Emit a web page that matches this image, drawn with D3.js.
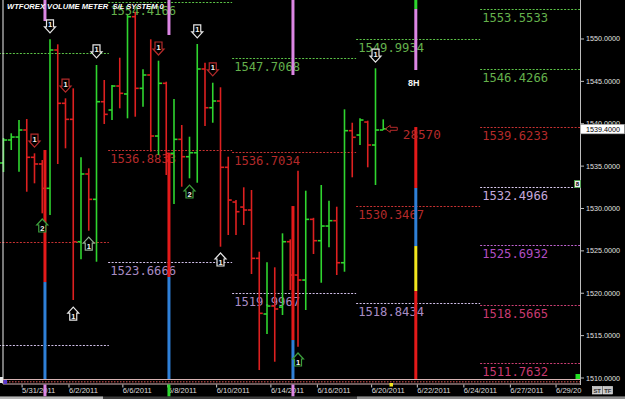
<!DOCTYPE html>
<html>
<head>
<meta charset="utf-8">
<script src="https://cdn.jsdelivr.net/npm/d3@7/dist/d3.min.js"></script>
<style>
  body { margin: 0; background: #000; }
  svg { display: block; }
</style>
</head>
<body>
<svg id="chart"></svg>
<script>
// 8H bars (bar index = position)
const opens  = [1535.37,1538.08,1538.43,1539.26,1536.04,1535.25,1532.38,1548.70,1542.41,1540.52,
                1526.08,1534.07,1531.08,1542.60,1541.62,1544.45,1543.51,1552.63,1544.18,1545.75,
                1538.55,1544.77,1536.51,1538.16,1536.11,1536.58,1546.46,1541.89,1542.68,1534.86,
                1530.76,1530.17,1529.82,1524.12,1517.55,1518.49,1518.37,1526.08,1522.15,1521.56,
                1528.72,1526.20,1527.93,1528.56,1523.60,1539.18,1538.67,1540.20,1537.49,1539.26];
const highs  = [1538.32,1538.87,1540.44,1540.56,1536.51,1535.72,1549.96,1549.37,1543.00,1544.18,
                1536.04,1534.74,1546.93,1545.16,1544.57,1547.79,1552.83,1553.22,1546.42,1549.96,
                1547.44,1544.96,1542.92,1539.85,1538.47,1549.41,1547.20,1544.84,1544.30,1536.11,
                1531.00,1532.50,1532.18,1524.90,1523.65,1523.06,1527.07,1526.36,1534.46,1532.10,
                1528.90,1532.77,1530.92,1530.21,1541.70,1540.12,1540.64,1540.36,1546.54,1540.52];
const lows   = [1534.30,1536.90,1534.34,1531.98,1532.97,1529.43,1529.23,1535.25,1537.10,1519.20,
                1524.00,1527.38,1523.72,1539.97,1540.44,1541.82,1540.64,1540.83,1542.01,1536.70,
                1536.31,1533.95,1530.53,1532.57,1533.56,1533.04,1539.73,1540.12,1525.49,1526.87,
                1526.87,1528.05,1522.27,1510.94,1515.19,1511.92,1517.43,1520.38,1513.69,1518.02,
                1524.63,1521.24,1525.42,1522.15,1522.54,1533.68,1537.49,1534.86,1532.77,1539.26];
const closes = [1538.08,1538.43,1539.26,1536.04,1535.25,1532.38,1548.70,1542.41,1540.52,1526.08,
                1534.07,1531.08,1542.60,1541.11,1544.45,1543.59,1552.63,1544.18,1545.75,1538.55,
                1544.77,1536.51,1538.16,1536.11,1536.58,1546.46,1541.89,1542.68,1534.86,1531.00,
                1529.62,1529.82,1524.12,1517.63,1518.49,1518.14,1526.08,1522.15,1521.56,1528.72,
                1526.20,1527.93,1528.56,1523.60,1539.18,1538.40,1540.44,1537.49,1539.26,1539.40];
const lastPrice = 1539.40;

const dateLabels = ["5/31/2011","6/2/2011","6/6/2011","6/8/2011","6/10/2011","6/14/2011",
                    "6/16/2011","6/20/2011","6/22/2011","6/24/2011","6/27/2011","6/29/20"];
const dateTickAt = [2.4, 8.45, 15.4, 21.2, 27.5, 34.5, 40.5, 47.5, 53.4, 59.4, 65.4, 71.3];

const priceTicks = [1510, 1515, 1520, 1525, 1530, 1535, 1540, 1545, 1550];

// S/L levels, grouped in 16-bar blocks
const blockStart = [-2.4, 13.5, 29.5, 45.5, 61.5];
const levelBlock = [0, 0, 0, 1, 1, 1, 2, 2, 2, 3, 3, 3, 4, 4, 4, 4, 4, 4, 4];
const levelValue = [1548.38, 1526.08, 1513.93,
                    1554.4166, 1536.8833, 1523.6666,
                    1547.7068, 1536.7034, 1519.9967,
                    1549.9934, 1530.3467, 1518.8434,
                    1553.5533, 1546.4266, 1539.6233, 1532.4966, 1525.6932, 1518.5665, 1511.7632];
const levelKind  = ["g","r","l", "g","r","l", "g","r","l", "g","r","l",
                    "g","g","r","w","m","p","p"];

// volume meter columns: position, then stacked pieces [from, to, colour]
const volAt = [5.35, 21.35, 37.35, 53.2];
const volPieces = [
  [[1556, 1552.12, "pink"], [1536.90, 1521.32, "red"], [1521.32, 1509.7, "blue"]],
  [[1556, 1550.47, "pink"], [1536.55, 1521.92, "red"], [1521.92, 1509.7, "blue"]],
  [[1556, 1545.75, "pink"], [1530.29, 1514.48, "red"], [1514.48, 1509.7, "blue"]],
  [[1556, 1553.54, "green"], [1553.54, 1546.34, "pink"], [1539.61, 1532.42, "red"],
   [1532.42, 1525.57, "blue"], [1525.57, 1520.26, "yellow"], [1520.26, 1509.7, "red"]]
];
const volMarkColor = ["pink", "green", "pink"];
const volNumber = "28570";

// signal arrows
const arrowAt   = [6, 12, 8, 25, 20, 4, 27, 48, 5, 11, 24, 9, 28, 38];
const arrowTip  = [1550.71, 1547.76, 1543.74, 1550.12, 1548.11, 1537.25, 1545.64, 1547.28,
                   1528.76, 1526.63, 1532.77, 1518.37, 1524.75, 1512.95];
const arrowDir  = ["d","d","d","d","d","d","d","d","u","u","u","u","u","u"];
const arrowKind = ["w","w","r","w","r","r","r","w","g","gg","g","w","w","g"];
const arrowNum  = ["1","1","1","1","1","1","1","1","2","1","2","1","1","1"];

const W = 625, H = 399;
const GREEN = "#2fd52f", RED = "#dd2020";
const volColors = { pink: "#dc86e4", red: "#e41a1a", blue: "#2f80d8", yellow: "#f2e61e", green: "#2ed62e" };
const lineColors = { g: "#5cc447", r: "#c83232", l: "#d2c0ea", w: "#dccdf2", m: "#c064d2", p: "#cc3f74" };
const textColors = { g: "#64b04c", r: "#b42a2a", l: "#a88cc4", w: "#c4a8dc", m: "#b04ec2", p: "#c83a70" };
const arrowColors = { w: "#e6e6e6", r: "#b42a2a", g: "#3c9e3c", gg: "#8eaa8e" };

const svg = d3.select("#chart").attr("width", W).attr("height", H);
svg.append("rect").attr("width", W).attr("height", H).attr("fill", "#000");

const x = d3.scaleLinear().domain([0, 74.4]).range([3.5, 580.1]);
const y = d3.scaleLinear().domain([1510, 1554.6]).range([378, 0]);
const plotRight = 580, plotBottom = 379;

svg.append("clipPath").attr("id", "plotclip")
  .append("rect").attr("x", 0).attr("y", 0).attr("width", plotRight).attr("height", plotBottom);

const chart = svg.append("g").attr("clip-path", "url(#plotclip)");

// left border
svg.append("line")
  .attr("x1", 3).attr("x2", 3).attr("y1", 0).attr("y2", 384)
  .attr("stroke", "#f0f0f0").attr("stroke-width", 1);

// level lines + labels
const levels = levelValue.map((v, i) => ({ v, b: levelBlock[i], k: levelKind[i] }));
chart.selectAll(".level").data(levels).join("line")
  .attr("x1", d => x(blockStart[d.b]))
  .attr("x2", d => Math.min(plotRight, x(blockStart[d.b] + 16)))
  .attr("y1", d => Math.round(y(d.v)) + 0.5)
  .attr("y2", d => Math.round(y(d.v)) + 0.5)
  .attr("stroke", d => lineColors[d.k])
  .attr("stroke-width", 1)
  .attr("stroke-dasharray", "2,1.5");

const lcd = (sel) => sel
  .attr("font-family", "DejaVu Sans Mono, monospace")
  .attr("font-size", 13)
  .attr("lengthAdjust", "spacingAndGlyphs");

chart.selectAll(".levelLabel").data(levels.filter(d => d.b > 0)).join("text")
  .call(lcd)
  .attr("x", d => x(blockStart[d.b]) + 2)
  .attr("y", d => y(d.v) + 13)
  .attr("textLength", 66)
  .attr("fill", d => textColors[d.k])
  .text(d => d.v.toFixed(4));

// volume meter columns
volAt.forEach((pos, j) => {
  chart.selectAll(".vol" + j).data(volPieces[j]).join("rect")
    .attr("x", x(pos) - 1.5)
    .attr("width", 3)
    .attr("y", d => y(d[0]))
    .attr("height", d => y(d[1]) - y(d[0]))
    .attr("fill", d => volColors[d[2]]);
});

// OHLC bars
const bars = opens.map((o, i) => ({ i, o, h: highs[i], l: lows[i], c: closes[i] }));
const barG = chart.selectAll(".bar").data(bars).join("g")
  .attr("stroke", d => d.c >= d.o ? GREEN : RED)
  .attr("stroke-width", 1.6);
barG.append("line")
  .attr("x1", d => x(d.i)).attr("x2", d => x(d.i))
  .attr("y1", d => y(d.h)).attr("y2", d => y(d.l));
barG.append("line")
  .attr("x1", d => x(d.i) - 3.5).attr("x2", d => x(d.i))
  .attr("y1", d => y(d.o)).attr("y2", d => y(d.o));
barG.append("line")
  .attr("x1", d => x(d.i)).attr("x2", d => x(d.i) + 3.5)
  .attr("y1", d => y(d.c)).attr("y2", d => y(d.c));

// arrows
const arrows = arrowAt.map((a, i) => ({ a, t: arrowTip[i], dir: arrowDir[i], k: arrowKind[i], n: arrowNum[i] }));
const arrowPath = (cx, ty, dir) => {
  const s = dir === "d" ? -1 : 1;
  return `M${cx - 3.5},${ty + s * 13} L${cx + 3.5},${ty + s * 13} L${cx + 3.5},${ty + s * 6}` +
    ` L${cx + 5.5},${ty + s * 6} L${cx},${ty} L${cx - 5.5},${ty + s * 6} L${cx - 3.5},${ty + s * 6} Z`;
};
const arG = chart.selectAll(".arrow").data(arrows).join("g");
arG.append("path")
  .attr("d", d => arrowPath(x(d.a), y(d.t), d.dir))
  .attr("fill", "#000")
  .attr("stroke", d => arrowColors[d.k])
  .attr("stroke-width", 1.2);
arG.append("text")
  .attr("x", d => x(d.a))
  .attr("y", d => d.dir === "d" ? y(d.t) - 5.5 : y(d.t) + 12)
  .attr("text-anchor", "middle")
  .attr("font-family", "Liberation Sans, Arial, sans-serif")
  .attr("font-size", 7.5)
  .attr("font-weight", "bold")
  .attr("fill", "#f4f4f4")
  .text(d => d.n);

// current volume readout on the last meter
const lastVol = volAt[volAt.length - 1];
chart.append("text")
  .call(lcd)
  .attr("x", x(lastVol) - 13)
  .attr("y", y(lastPrice) + 10)
  .attr("textLength", 38)
  .attr("fill", "#b42a2a")
  .text(volNumber);
chart.append("path")
  .attr("d", `M${x(49) + 2},${y(lastPrice)} l5,-3.5 v2 h7 v3 h-7 v2 Z`)
  .attr("fill", "none")
  .attr("stroke", "#b42a2a")
  .attr("stroke-width", 1);
chart.append("text")
  .attr("x", x(lastVol) - 2)
  .attr("y", y(1546.34) + 16)
  .attr("text-anchor", "middle")
  .attr("font-family", "Liberation Sans, Arial, sans-serif")
  .attr("font-size", 9)
  .attr("font-weight", "bold")
  .attr("fill", "#f4f4f4")
  .text("8H");

// title
svg.append("text")
  .attr("x", 7).attr("y", 9)
  .attr("font-family", "Liberation Sans, Arial, sans-serif")
  .attr("font-size", 7.6)
  .attr("font-weight", "bold")
  .attr("font-style", "italic")
  .attr("fill", "#ffffff")
  .style("white-space", "pre")
  .text("WTFOREX VOLUME METER  S/L SYSTEM 0");

// time axis band
const band = svg.append("g");
band.append("line").attr("x1", 3).attr("x2", plotRight).attr("y1", 379.5).attr("y2", 379.5)
  .attr("stroke", "#d6b4b4").attr("stroke-width", 1);
band.append("line").attr("x1", 3).attr("x2", plotRight).attr("y1", 381.8).attr("y2", 381.8)
  .attr("stroke", "#9c3a3a").attr("stroke-width", 1.6).attr("stroke-dasharray", "1.5,1.5");
band.append("line").attr("x1", 3).attr("x2", plotRight).attr("y1", 384).attr("y2", 384)
  .attr("stroke", "#d6b4b4").attr("stroke-width", 1);

svg.selectAll(".dtick").data(dateTickAt).join("line")
  .attr("x1", d => x(d)).attr("x2", d => x(d))
  .attr("y1", 384.5).attr("y2", 387.5)
  .attr("stroke", "#c8c8c8").attr("stroke-width", 1);
svg.selectAll(".dlabel").data(dateLabels).join("text")
  .attr("x", (d, i) => x(dateTickAt[i]))
  .attr("y", 393)
  .attr("font-family", "Liberation Sans, Arial, sans-serif")
  .attr("font-size", 7.6)
  .attr("fill", "#dcdcdc")
  .text(d => d);

// meter markers under the band
svg.selectAll(".vmark").data(volMarkColor).join("rect")
  .attr("x", (d, i) => x(volAt[i]) - 1.5)
  .attr("y", 384.5).attr("width", 3).attr("height", 12)
  .attr("fill", d => volColors[d]);
svg.append("rect").attr("x", x(50) - 1.5).attr("y", 383).attr("width", 3.5).attr("height", 3.5)
  .attr("fill", volColors.yellow);
svg.append("rect").attr("x", x(74) - 1.5).attr("y", 374).attr("width", 5).attr("height", 5)
  .attr("fill", "#22e022");
svg.append("rect").attr("x", 0).attr("y", 377).attr("width", 3).attr("height", 6).attr("fill", "#e8e8e8");
svg.append("rect").attr("x", 3.5).attr("y", 380).attr("width", 3.5).attr("height", 4).attr("fill", "#5a3ad0");

// scroll strip
svg.append("rect").attr("x", 0).attr("y", 396.5).attr("width", W).attr("height", 2.5).attr("fill", "#3c3c3c");
svg.append("rect").attr("x", 0).attr("y", 396.5).attr("width", 103).attr("height", 2.5).attr("fill", "#b4b4b4");
svg.append("rect").attr("x", 357).attr("y", 396.5).attr("width", 268).attr("height", 2.5).attr("fill", "#8c8c8c");

// price axis
svg.append("line")
  .attr("x1", plotRight + 0.5).attr("x2", plotRight + 0.5).attr("y1", 0).attr("y2", 385)
  .attr("stroke", "#bdbdbd").attr("stroke-width", 1);
svg.selectAll(".ptick").data(priceTicks).join("line")
  .attr("x1", plotRight + 1).attr("x2", plotRight + 4)
  .attr("y1", d => y(d)).attr("y2", d => y(d))
  .attr("stroke", "#bdbdbd");
svg.selectAll(".plabel").data(priceTicks).join("text")
  .attr("x", plotRight + 6)
  .attr("y", d => y(d) + 2.5)
  .attr("font-family", "Liberation Sans, Arial, sans-serif")
  .attr("font-size", 7.2)
  .attr("fill", "#e0e0e0")
  .text(d => d.toFixed(4));

// last price box
svg.append("rect")
  .attr("x", plotRight + 0.5).attr("y", y(lastPrice) - 4.5)
  .attr("width", 44).attr("height", 9.5)
  .attr("fill", "#ffffff").attr("stroke", "#9a9a9a").attr("stroke-width", 0.6);
svg.append("text")
  .attr("x", plotRight + 6).attr("y", y(lastPrice) + 2.8)
  .attr("font-family", "Liberation Sans, Arial, sans-serif")
  .attr("font-size", 7.2)
  .attr("fill", "#000")
  .text(lastPrice.toFixed(4));

// small marker box on the axis
svg.append("rect")
  .attr("x", plotRight - 5.5).attr("y", y(1532.9) - 3.5)
  .attr("width", 6).attr("height", 7)
  .attr("fill", "#eeeeee").attr("stroke", "#3c9e3c").attr("stroke-width", 0.8);
svg.append("text")
  .attr("x", plotRight - 2.5).attr("y", y(1532.9) + 2.3)
  .attr("text-anchor", "middle")
  .attr("font-family", "Liberation Sans, Arial, sans-serif")
  .attr("font-size", 6).attr("font-weight", "bold")
  .attr("fill", "#000")
  .text("8");

// ST / TF buttons
const btn = svg.selectAll(".btn").data(["ST", "TF"]).join("g");
btn.append("rect")
  .attr("x", (d, i) => 592.5 + i * 10.5).attr("y", 386.5)
  .attr("width", 9.5).attr("height", 7.5)
  .attr("fill", "#c4c4c4").attr("stroke", "#eeeeee").attr("stroke-width", 0.6);
btn.append("text")
  .attr("x", (d, i) => 597.2 + i * 10.5).attr("y", 392.5)
  .attr("text-anchor", "middle")
  .attr("font-family", "Liberation Sans, Arial, sans-serif")
  .attr("font-size", 5.8).attr("font-weight", "bold")
  .attr("fill", "#333")
  .text(d => d);
</script>
</body>
</html>
